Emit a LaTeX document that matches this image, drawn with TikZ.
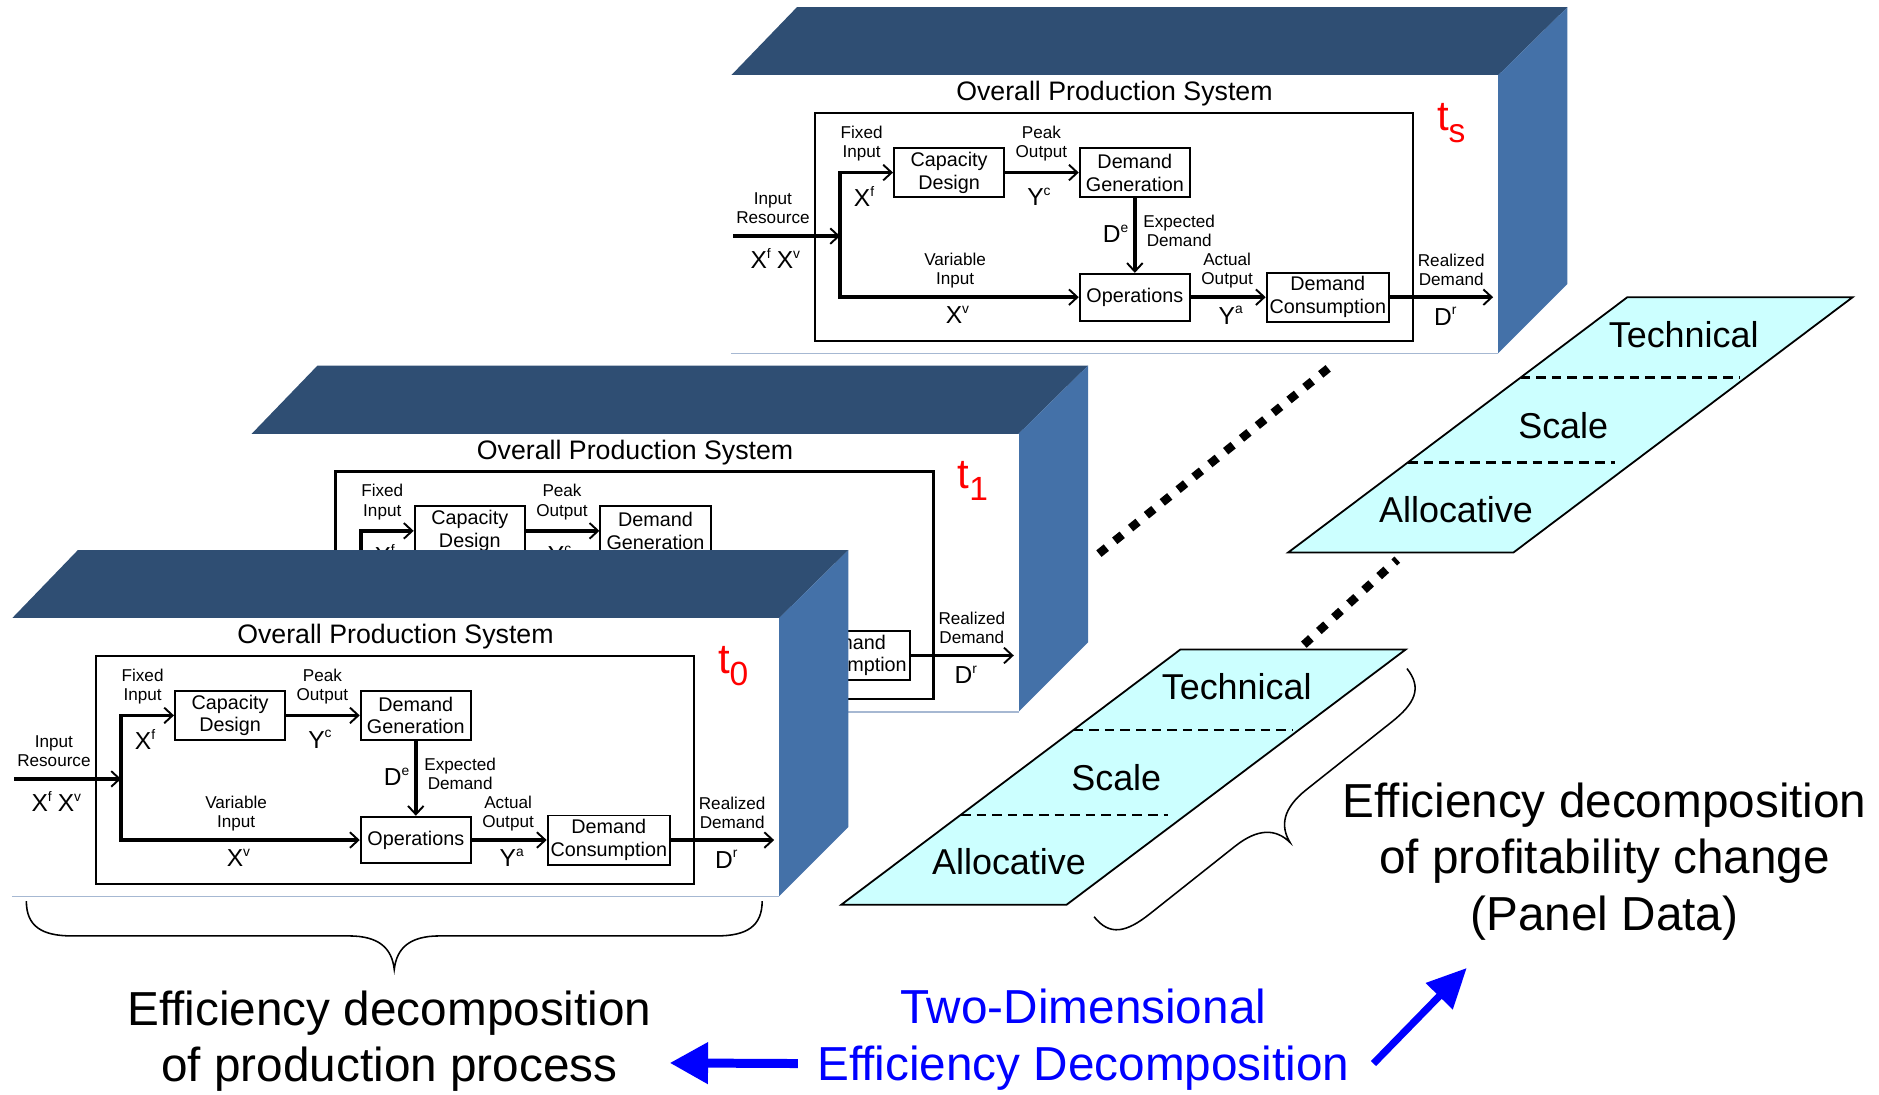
\documentclass[tikz,border=0pt]{standalone}
\usepackage{fontspec}
\setmainfont{Liberation Sans}
\usetikzlibrary{arrows.meta}

\definecolor{boxtop}{HTML}{2F4E73}
\definecolor{boxside}{HTML}{4471A8}
\definecolor{boxrim}{HTML}{A6B8D2}
\definecolor{effcyan}{HTML}{CCFFFF}

% variable with a small raised index, e.g. X^f
\newcommand\varsup[2]{#1\raisebox{0.42em}{\fontsize{11.5}{11.5}\selectfont #2}}

% labels of the lower chart part are left out where a slab in front hides them
\newif\ifchartfull
\chartfulltrue

\tikzset{
  flow/.style={line width=3.2pt, -{Straight Barb[length=7pt,width=13pt,line width=1.6pt]}},
  blk/.style={draw, line width=1.6pt, inner sep=0pt, align=center, font=\fontsize{16.5}{19}\selectfont},
  lbl/.style={inner sep=0pt, align=center, font=\fontsize{14.3}{16}\selectfont},
  var/.style={inner sep=0pt, font=\fontsize{20.5}{20.5}\selectfont},
  big/.style={inner sep=0pt, align=center, font=\fontsize{39.8}{47}\selectfont},
  eff/.style={inner sep=0pt, anchor=base, font=\fontsize{30}{30}\selectfont},
  band/.style={fill=effcyan, draw=black, line width=1.5pt, line join=miter},
  sep/.style={dash pattern=on 8pt off 5pt, line width=1.8pt},
  dots/.style={line width=7pt, dash pattern=on 8pt off 9pt},
  curly/.style={line width=1.3pt},
  bluearrow/.style={draw=blue, line width=7.5pt},
  % one time period: a 3-D slab carrying the production system chart
  pics/prodbox/.style={code={
    \fill[boxtop] (0,0) -- (55,-57) -- (698,-57) -- (640,0) -- cycle;
    \fill[boxside] (640,0) -- (698,-57) -- (698,174) -- (640,232) -- cycle;
    \fill[white] (0,0) rectangle (640,232);
    \draw[boxrim, line width=1.2pt] (0,232) -- (640,232);
    \node (-title) [inner sep=0pt, font=\fontsize{22.3}{22.3}\selectfont] at (320,15.5) {Overall Production System};
    \node (-tl) [anchor=base west, text=red, inner sep=0pt] at (589,46)
      {\fontsize{35}{35}\selectfont t\raisebox{-10pt}{\fontsize{28}{28}\selectfont #1}};
    \node (-frame) [draw, line width=2pt, minimum width=499pt, minimum height=190pt, inner sep=0pt] at (319.5,126.5) {};
    \node (-cd) [blk, minimum width=92pt, minimum height=41pt] at (182,81) {Capacity\\Design};
    \node (-dg) [blk, minimum width=92pt, minimum height=41pt] at (337,81) {Demand\\Generation};
    \node (-dc) [blk, minimum width=102pt, minimum height=41pt] at (498,185) {Demand\\Consumption};
    \coordinate (-in) at (2,134);
    \coordinate (-j) at (91,134);
    \coordinate (-out) at (636,185);
    \draw[flow] (-j) |- (-cd.west);
    \draw[flow] (-cd) -- (-dg);
    \draw[flow] (-dc) -- (-out);
    \node (-lfix) [lbl] at (109,57) {Fixed\\Input};
    \node (-xf) [var] at (111,101) {\varsup{X}{f}};
    \node (-lpk) [lbl] at (259,57) {Peak\\Output};
    \node (-yc) [var] at (257,101) {\varsup{Y}{c}};
    \node (-lrd) [lbl] at (601,162) {Realized\\Demand};
    \node (-dr) [var] at (596,201) {\varsup{D}{r}};
    \ifchartfull
      \node (-op) [blk, minimum width=92pt, minimum height=39pt] at (337,185) {Operations};
      \draw[flow] (-in) -- (-j);
      \draw[flow] (-j) |- (-op.west);
      \draw[flow] (-dg) -- (-op);
      \draw[flow] (-op) -- (-dc);
      \node (-lin) [lbl] at (35,111) {Input\\Resource};
      \node (-xin) [var] at (37,153) {\varsup{X}{f}\hspace{5pt}\varsup{X}{v}};
      \node (-de) [var] at (321,132) {\varsup{D}{e}};
      \node (-lexp) [lbl] at (374,130) {Expected\\Demand};
      \node (-lvar) [lbl] at (187,163) {Variable\\Input};
      \node (-xv) [var] at (189,200) {\varsup{X}{v}};
      \node (-lact) [lbl] at (414,163) {Actual\\Output};
      \node (-ya) [var] at (417,200) {\varsup{Y}{a}};
    \else
      \draw[flow] (-j) -- (91,140);
      \draw[flow] (337,101.5) -- (337,140);
    \fi
  }}
}

\begin{document}
\begin{tikzpicture}[x=1pt,y=-1pt]
\useasboundingbox (0,0) rectangle (1568,913);

% three periods, back to front
\pic (PS) at (610,63) {prodbox=s};
\begin{scope}
  \chartfullfalse
  \pic (P1) at (210,362) {prodbox=1};
\end{scope}
\pic (P0) at (10,516) {prodbox=0};

% continuity between periods
\coordinate (d1a) at (917,462);
\coordinate (d1b) at (1115,302);
\coordinate (d2a) at (1088,538);
\coordinate (d2b) at (1166,467);
\draw[dots] (d1a) -- (d1b);
\draw[dots] (d2a) -- (d2b);

% efficiency layers, later period
\coordinate (UBL) at (1075,461);
\coordinate (UBR) at (1263,461);
\coordinate (UTR) at (1546,248);
\coordinate (UTL) at (1358,248);
\draw[band] (UBL) -- (UBR) -- (UTR) -- (UTL) -- cycle;
\coordinate (us1a) at (1269,315); \coordinate (us1b) at (1452,315);
\coordinate (us2a) at (1175,386); \coordinate (us2b) at (1348,386);
\draw[sep] (us1a) -- (us1b);
\draw[sep] (us2a) -- (us2b);
\node (uT) [eff] at (1405,290) {Technical};
\node (uS) [eff] at (1304.5,365.6) {Scale};
\node (uA) [eff] at (1215,435.6) {Allocative};

% efficiency layers, earlier period
\coordinate (LBL) at (702,755);
\coordinate (LBR) at (890,755);
\coordinate (LTR) at (1173,542);
\coordinate (LTL) at (985,542);
\draw[band] (LBL) -- (LBR) -- (LTR) -- (LTL) -- cycle;
\coordinate (ls1a) at (896,609); \coordinate (ls1b) at (1079,609);
\coordinate (ls2a) at (802,680); \coordinate (ls2b) at (975,680);
\draw[sep] (ls1a) -- (ls1b);
\draw[sep] (ls2a) -- (ls2b);
\node (lT) [eff] at (1032,584) {Technical};
\node (lS) [eff] at (931.5,659.6) {Scale};
\node (lA) [eff] at (842,729.6) {Allocative};

% brace under the front period
\begin{scope}[shift={(22,752)}]
  \draw[curly] (0,0) .. controls (0,21) and (13,29) .. (38,29) -- (269,29)
    .. controls (294,29) and (305,39) .. (307,57)
    .. controls (309,39) and (320,29) .. (345,29) -- (576,29)
    .. controls (601,29) and (614,21) .. (614,0);
\end{scope}

% brace along the efficiency layers
\begin{scope}[shift={(913,765)}, x={(0.784pt,0.622pt)}, y={(0.622pt,-0.784pt)}]
  \draw[curly] (0,0) .. controls (0,21) and (13,27) .. (38,27) -- (128.5,27)
    .. controls (153.5,27) and (164.5,37) .. (166.5,53)
    .. controls (168.5,37) and (179.5,27) .. (204.5,27) -- (295,27)
    .. controls (320,27) and (333,21) .. (333,0);
\end{scope}

% captions
\node (prod) [big] at (325,869) {Efficiency decomposition\\of production process};
\node (two) [big, text=blue] at (904,867.5) {Two-Dimensional\\Efficiency Decomposition};
\node (panel) [big] at (1339,719) {Efficiency decomposition\\of profitability change\\(Panel Data)};

\draw[bluearrow, -{Triangle[length=32pt,width=33pt]}] ([shift={(-16,20)}]two.west) -- ([shift={(15,18)}]prod.east);
\draw[blue, line width=6pt, -{Triangle[length=33pt,width=30pt]}] ([shift={(20,20)}]two.east) -- ([shift={(-115,23)}]panel.south);
\end{tikzpicture}
\end{document}
